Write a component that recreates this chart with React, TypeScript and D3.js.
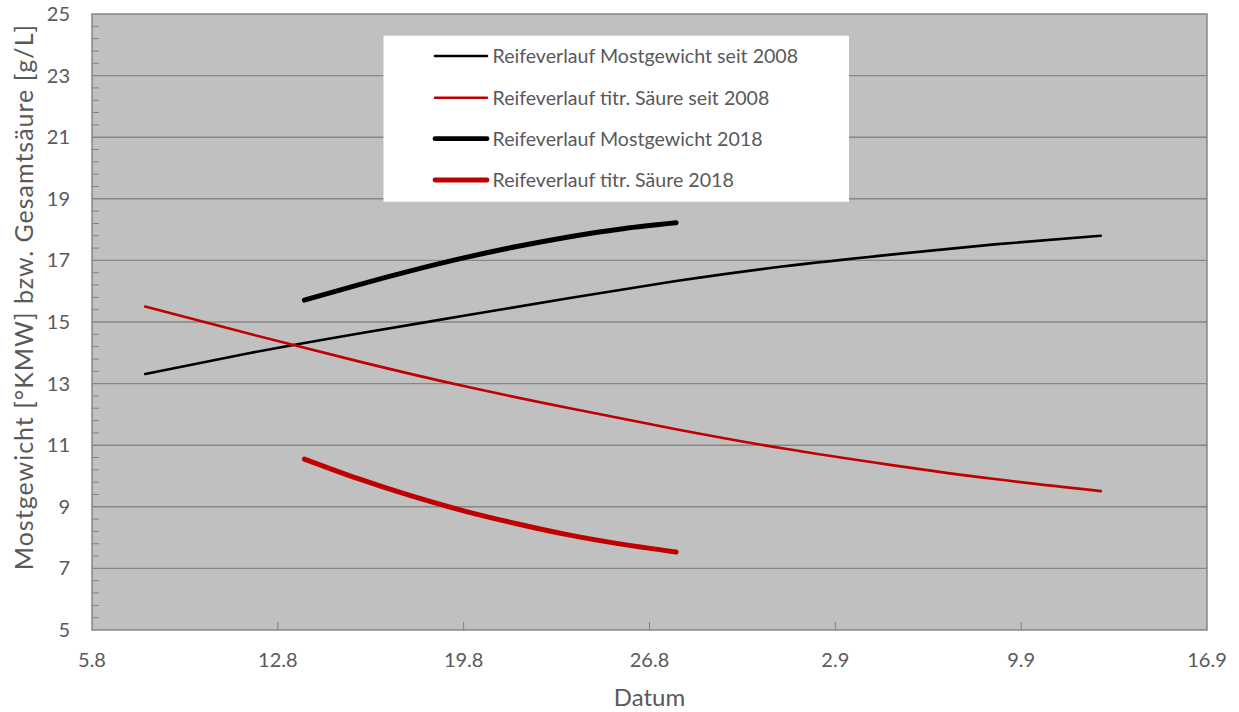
import React from "react";
import * as d3 from "d3";

const W = 1239;
const H = 712;
const M = { left: 92, right: 1207, top: 14, bottom: 630 };

// dates (2018) as "YYYY-MM-DD"
const dates2008 = ["2018-08-07", "2018-08-11", "2018-08-15", "2018-08-19", "2018-08-23", "2018-08-27", "2018-08-31", "2018-09-04", "2018-09-08", "2018-09-12"];
const mostLongterm = [13.31, 14.0, 14.62, 15.2, 15.78, 16.33, 16.8, 17.18, 17.52, 17.8];
const saeureLongterm = [15.5, 14.6, 13.73, 12.92, 12.2, 11.52, 10.9, 10.37, 9.9, 9.51];

const dates2018 = ["2018-08-13", "2018-08-15", "2018-08-17", "2018-08-19", "2018-08-21", "2018-08-23", "2018-08-25", "2018-08-27"];
const most2018 = [15.71, 16.2, 16.66, 17.08, 17.45, 17.77, 18.03, 18.22];
const saeure2018 = [10.55, 9.92, 9.36, 8.87, 8.45, 8.08, 7.78, 7.53];

const xTickDates = ["2018-08-05", "2018-08-12", "2018-08-19", "2018-08-26", "2018-09-02", "2018-09-09", "2018-09-16"];
const yTicks = [5, 7, 9, 11, 13, 15, 17, 19, 21, 23, 25];

const legendLabels = [
  "Reifeverlauf Mostgewicht seit 2008",
  "Reifeverlauf titr. Säure seit 2008",
  "Reifeverlauf Mostgewicht 2018",
  "Reifeverlauf titr. Säure 2018",
];

const FONT = "Lato, 'Open Sans', sans-serif";
const TEXT = "#595959";
const RED = "#c00000";

export default function App() {
  const parse = d3.utcParse("%Y-%m-%d");
  const x = d3
    .scaleUtc()
    .domain([parse("2018-08-05")!, parse("2018-09-16")!])
    .range([M.left, M.right]);
  const y = d3.scaleLinear().domain([5, 25]).range([M.bottom, M.top]);
  const fmt = d3.utcFormat("%-d.%-m");

  const line = d3
    .line<[Date, number]>()
    .x((d) => x(d[0]))
    .y((d) => y(d[1]))
    .curve(d3.curveNatural);

  const mk = (ds: string[], vs: number[]) => ds.map((s, i) => [parse(s)!, vs[i]] as [Date, number]);

  const series = [
    { data: mk(dates2008, mostLongterm), color: "#000", w: 2.6 },
    { data: mk(dates2008, saeureLongterm), color: RED, w: 2.6 },
    { data: mk(dates2018, most2018), color: "#000", w: 5 },
    { data: mk(dates2018, saeure2018), color: RED, w: 5 },
  ];

  const minor: number[] = [];
  for (let v = 5; v < 25; v += 0.4) {
    const r = Math.round(v * 10) / 10;
    if (Math.abs((r - 5) % 2) > 0.01) minor.push(r);
  }

  const legendRows = [56, 97.7, 138.7, 180];

  return (
    <svg
      width={W}
      height={H}
      style={{ position: "absolute", left: 0, top: 0, background: "#fff" }}
      fontFamily={FONT}
    >
      <rect x={M.left} y={M.top} width={M.right - M.left} height={M.bottom - M.top} fill="#c0c0c0" />
      {yTicks.slice(1, -1).map((t) => (
        <line key={t} x1={M.left} x2={M.right} y1={y(t)} y2={y(t)} stroke="#868686" strokeWidth={1.4} />
      ))}
      {minor.map((t) => (
        <line key={"m" + t} x1={M.left} x2={M.left + 7} y1={y(t)} y2={y(t)} stroke="#808080" strokeWidth={1} />
      ))}
      {xTickDates.slice(1, -1).map((s) => (
        <line key={s} x1={x(parse(s)!)} x2={x(parse(s)!)} y1={M.bottom} y2={M.bottom - 8} stroke="#808080" strokeWidth={1} />
      ))}
      <rect
        x={M.left}
        y={M.top}
        width={M.right - M.left}
        height={M.bottom - M.top}
        fill="none"
        stroke="#808080"
        strokeWidth={1.4}
      />
      {yTicks.map((t) => (
        <text key={t} x={70} y={y(t)} dy="0.35em" textAnchor="end" fontSize={20} fill={TEXT}>
          {t}
        </text>
      ))}
      {xTickDates.map((s) => (
        <text key={s} x={x(parse(s)!)} y={660} dy="0.35em" textAnchor="middle" fontSize={20} fill={TEXT}>
          {fmt(parse(s)!)}
        </text>
      ))}
      <text x={(M.left + M.right) / 2} y={698} dy="0.35em" textAnchor="middle" fontSize={24} fill={TEXT}>
        Datum
      </text>
      <text
        transform={`translate(24, 297) rotate(-90)`}
        dy="0.35em"
        textAnchor="middle"
        fontSize={25}
        letterSpacing={1}
        fill={TEXT}
      >
        Mostgewicht [°KMW] bzw. Gesamtsäure [g/L]
      </text>
      {series.map((s, i) => (
        <path
          key={i}
          d={line(s.data)!}
          fill="none"
          stroke={s.color}
          strokeWidth={s.w}
          strokeLinecap="round"
          strokeLinejoin="round"
        />
      ))}
      <rect x={383.5} y={35.7} width={465.5} height={166} fill="#fff" />
      {legendLabels.map((lab, i) => (
        <g key={lab}>
          <line
            x1={435}
            x2={487}
            y1={legendRows[i]}
            y2={legendRows[i]}
            stroke={series[i].color}
            strokeWidth={i < 2 ? 2.6 : 4.8}
            strokeLinecap="round"
          />
          <text x={492.5} y={legendRows[i]} dy="0.35em" fontSize={19.6} fill={TEXT}>
            {lab}
          </text>
        </g>
      ))}
    </svg>
  );
}
